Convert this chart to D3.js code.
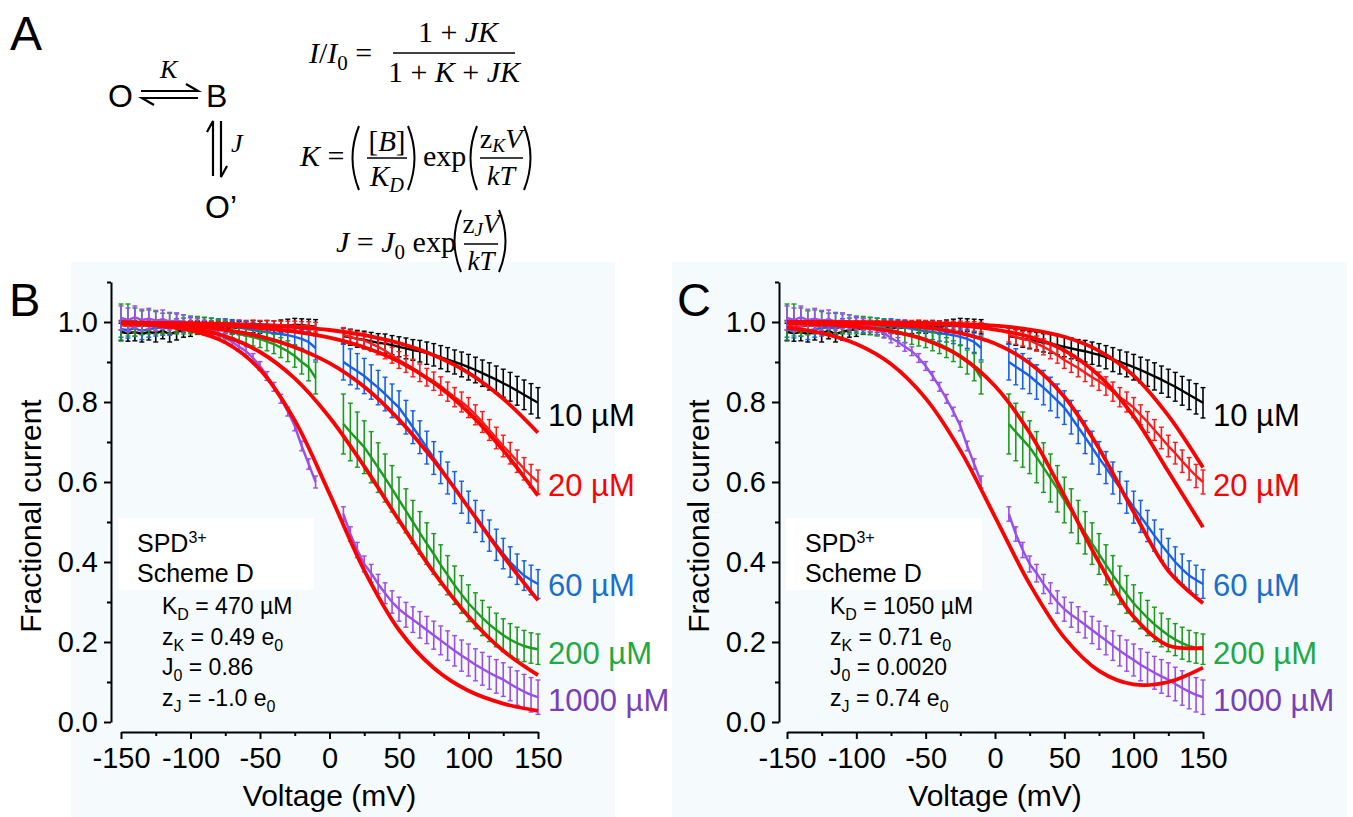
<!DOCTYPE html>
<html>
<head>
<meta charset="utf-8">
<script src="https://cdn.jsdelivr.net/npm/d3@7"></script>
<style>
  html, body { margin: 0; padding: 0; background: #ffffff; }
  svg { display: block; }
</style>
</head>
<body>
<svg id="figure" width="1353" height="817"></svg>
<script>
// voltage grids (mV)
const voltsLeft = d3.range(-150, -5, 5);    // -150 ... -10
const voltsRight = d3.range(10, 151, 5);    // 10 ... 150
const fitVolts = d3.range(-150, 151, 25);   // -150 ... 150

const concentrations = ["10 µM", "20 µM", "60 µM", "200 µM", "1000 µM"];

// mean fractional current
const mean10L = [0.975,0.972,0.975,0.970,0.975,0.972,0.978,0.970,0.975,0.980,0.982,0.985,0.985,0.984,0.985,0.986,0.985,0.987,0.986,0.988,0.987,0.989,0.988,0.990,0.991,0.993,0.992,0.990,0.988];
const mean10R = [0.965,0.962,0.958,0.955,0.952,0.948,0.946,0.942,0.938,0.934,0.930,0.927,0.922,0.918,0.912,0.906,0.900,0.894,0.887,0.880,0.872,0.864,0.856,0.847,0.838,0.828,0.818,0.808,0.798];
const mean20L = [0.992,0.990,0.988,0.992,0.990,0.989,0.986,0.984,0.988,0.990,0.992,0.993,0.994,0.993,0.994,0.995,0.994,0.995,0.994,0.995,0.994,0.993,0.993,0.992,0.992,0.991,0.990,0.989,0.987];
const mean20R = [0.968,0.962,0.958,0.954,0.946,0.938,0.928,0.917,0.905,0.895,0.885,0.873,0.862,0.852,0.840,0.826,0.812,0.800,0.786,0.768,0.750,0.730,0.710,0.690,0.672,0.652,0.633,0.615,0.600];
const mean60L = [0.982,0.980,0.984,0.978,0.982,0.985,0.987,0.985,0.990,0.992,0.993,0.992,0.993,0.992,0.990,0.990,0.988,0.986,0.983,0.980,0.977,0.975,0.972,0.970,0.967,0.963,0.958,0.950,0.935];
const mean60R = [0.900,0.888,0.877,0.865,0.850,0.836,0.820,0.803,0.786,0.762,0.737,0.712,0.686,0.660,0.636,0.610,0.586,0.562,0.537,0.514,0.490,0.466,0.443,0.421,0.400,0.382,0.366,0.355,0.345];
const mean200L = [1.000,1.005,1.000,0.998,1.000,0.998,0.996,0.997,0.995,0.994,0.993,0.992,0.990,0.987,0.984,0.980,0.975,0.970,0.966,0.962,0.958,0.951,0.945,0.936,0.927,0.915,0.900,0.887,0.860];
const mean200R = [0.745,0.725,0.706,0.687,0.662,0.636,0.610,0.583,0.555,0.528,0.500,0.473,0.446,0.420,0.393,0.367,0.342,0.319,0.297,0.278,0.260,0.244,0.230,0.217,0.206,0.197,0.190,0.185,0.182];
const mean1000L = [1.010,1.005,1.012,1.005,1.008,1.004,1.006,1.002,1.003,1.000,0.997,0.994,0.990,0.982,0.972,0.960,0.950,0.938,0.927,0.910,0.890,0.865,0.838,0.808,0.776,0.740,0.690,0.645,0.600];
const mean1000R = [0.520,0.470,0.430,0.395,0.372,0.345,0.322,0.300,0.282,0.268,0.256,0.243,0.230,0.217,0.204,0.191,0.178,0.166,0.155,0.143,0.133,0.123,0.114,0.106,0.095,0.085,0.076,0.068,0.062];

// error bars (half height)
const err10L = [0.022,0.02,0.022,0.02,0.02,0.022,0.02,0.02,0.02,0.018,0.018,0.016,0.016,0.016,0.015,0.015,0.015,0.015,0.015,0.015,0.015,0.015,0.015,0.015,0.016,0.016,0.016,0.017,0.018];
const err10R = [0.02,0.02,0.021,0.022,0.022,0.023,0.024,0.024,0.025,0.026,0.026,0.027,0.028,0.028,0.029,0.03,0.03,0.031,0.032,0.032,0.033,0.034,0.034,0.035,0.036,0.036,0.037,0.038,0.038];
const err20L = [0.012,0.012,0.013,0.012,0.012,0.013,0.014,0.014,0.013,0.012,0.011,0.011,0.01,0.01,0.01,0.01,0.01,0.01,0.01,0.01,0.01,0.01,0.01,0.01,0.01,0.011,0.011,0.012,0.012];
const err20R = [0.018,0.018,0.018,0.019,0.019,0.02,0.02,0.02,0.021,0.021,0.022,0.022,0.022,0.023,0.023,0.024,0.024,0.025,0.025,0.025,0.026,0.026,0.027,0.027,0.027,0.028,0.028,0.029,0.03];
const err60L = [0.02,0.02,0.02,0.022,0.02,0.02,0.02,0.018,0.018,0.018,0.018,0.018,0.018,0.018,0.018,0.018,0.018,0.018,0.018,0.018,0.019,0.019,0.02,0.02,0.021,0.022,0.024,0.026,0.03];
const err60R = [0.045,0.045,0.044,0.044,0.043,0.043,0.042,0.042,0.042,0.042,0.041,0.041,0.041,0.041,0.04,0.04,0.04,0.04,0.04,0.04,0.039,0.039,0.039,0.038,0.038,0.038,0.037,0.037,0.036];
const err200L = [0.045,0.04,0.035,0.03,0.03,0.028,0.026,0.025,0.025,0.024,0.022,0.022,0.022,0.022,0.022,0.022,0.022,0.022,0.022,0.022,0.022,0.023,0.024,0.025,0.026,0.028,0.03,0.034,0.04];
const err200R = [0.075,0.072,0.069,0.066,0.064,0.062,0.06,0.058,0.057,0.055,0.054,0.053,0.052,0.051,0.05,0.049,0.048,0.047,0.046,0.045,0.044,0.043,0.042,0.041,0.04,0.04,0.039,0.038,0.038];
const err1000L = [0.03,0.03,0.028,0.027,0.026,0.025,0.024,0.022,0.02,0.018,0.016,0.015,0.014,0.013,0.012,0.012,0.011,0.011,0.011,0.011,0.011,0.011,0.011,0.011,0.011,0.012,0.012,0.013,0.015];
const err1000R = [0.018,0.018,0.019,0.02,0.022,0.024,0.026,0.028,0.03,0.031,0.032,0.033,0.034,0.035,0.036,0.037,0.038,0.039,0.04,0.04,0.041,0.041,0.042,0.042,0.042,0.043,0.043,0.043,0.043];

// red fit curves, sampled every 25 mV
const fitB10 = [0.999,0.998,0.997,0.995,0.992,0.987,0.980,0.967,0.947,0.917,0.873,0.808,0.723];
const fitB20 = [0.999,0.997,0.995,0.991,0.985,0.976,0.961,0.937,0.901,0.848,0.774,0.679,0.566];
const fitB60 = [0.998,0.995,0.990,0.980,0.964,0.937,0.897,0.838,0.756,0.654,0.536,0.415,0.304];
const fitB200 = [0.997,0.993,0.984,0.964,0.925,0.859,0.762,0.639,0.504,0.374,0.264,0.178,0.117];
const fitB1000 = [0.997,0.992,0.979,0.949,0.881,0.754,0.571,0.379,0.230,0.135,0.078,0.046,0.028];
const fitC10 = [1.000,1.000,0.999,0.999,0.998,0.995,0.991,0.981,0.963,0.928,0.866,0.766,0.636];
const fitC20 = [1.000,0.999,0.999,0.998,0.995,0.991,0.981,0.963,0.929,0.866,0.764,0.626,0.487];
const fitC60 = [0.999,0.998,0.997,0.993,0.986,0.972,0.946,0.897,0.813,0.684,0.525,0.378,0.297];
const fitC200 = [0.997,0.994,0.988,0.977,0.955,0.914,0.840,0.723,0.566,0.399,0.263,0.191,0.185];
const fitC1000 = [0.986,0.972,0.945,0.895,0.809,0.679,0.513,0.345,0.211,0.128,0.094,0.100,0.136];

const paramsB = ["470 µM", "0.49", "0.86", "-1.0"];
const paramsC = ["1050 µM", "0.71", "0.0020", "0.74"];

const xTicks = [-150, -100, -50, 0, 50, 100, 150];
const xMinor = [-125, -75, -25, 25, 75, 125];
const yTicks = [0, 0.2, 0.4, 0.6, 0.8, 1.0];
const yMinor = [0.1, 0.3, 0.5, 0.7, 0.9, 1.1];

const dataColors = ["#000000", "#ff1a1a", "#1a5fe8", "#1e9a1e", "#9a4fe6"];
const labelColors = ["#000000", "#ff0000", "#1a6fcc", "#22a844", "#7a3fb8"];
const labelAt = [0.74, 0.565, 0.315, 0.145, 0.028];
const fitColor = "#ff0000";

const sans = "'Liberation Sans', Arial, Helvetica, sans-serif";
const serif = "'Liberation Serif', 'Times New Roman', serif";

const series = [
    { mL: mean10L, mR: mean10R, eL: err10L, eR: err10R },
    { mL: mean20L, mR: mean20R, eL: err20L, eR: err20R },
    { mL: mean60L, mR: mean60R, eL: err60L, eR: err60R },
    { mL: mean200L, mR: mean200R, eL: err200L, eR: err200R },
    { mL: mean1000L, mR: mean1000R, eL: err1000L, eR: err1000R }
];

const svg = d3.select("#figure");

const y = d3.scaleLinear().domain([0, 1.1]).range([722, 282]);

const panels = [
    { name: "B", left: 121, right: 538, axisX: 111, fits: [fitB10, fitB20, fitB60, fitB200, fitB1000], params: paramsB },
    { name: "C", left: 787, right: 1203, axisX: 779, fits: [fitC10, fitC20, fitC60, fitC200, fitC1000], params: paramsC }
];

//Panel backgrounds
svg.append("rect").attr("x", 71).attr("y", 262).attr("width", 544).attr("height", 555).attr("fill", "#f5fbfc");
svg.append("rect").attr("x", 672).attr("y", 262).attr("width", 675).attr("height", 555).attr("fill", "#f5fbfc");

panels.forEach(p => {
    const dx = p.axisX - 111;
    const x = d3.scaleLinear().domain([-150, 150]).range([p.left, p.right]);
    const g = svg.append("g");

    // white box behind the annotation
    g.append("rect")
        .attr("x", 118 + dx).attr("y", 518)
        .attr("width", 196).attr("height", 72)
        .attr("fill", "#ffffff");

    // data with error bars
    series.forEach((s, i) => {
        const color = dataColors[i];
        [[voltsLeft, s.mL, s.eL], [voltsRight, s.mR, s.eR]].forEach(([vs, ms, es]) => {
            const pts = vs.map((v, k) => ({ v: v, m: ms[k], e: es[k] }));
            const sg = g.append("g").attr("stroke", color).attr("fill", "none");

            sg.selectAll("line.bar")
                .data(pts)
                .join("line")
                .attr("class", "bar")
                .attr("x1", d => x(d.v)).attr("x2", d => x(d.v))
                .attr("y1", d => y(d.m - d.e)).attr("y2", d => y(d.m + d.e))
                .attr("stroke-width", 1.6);

            sg.selectAll("line.capTop")
                .data(pts)
                .join("line")
                .attr("class", "capTop")
                .attr("x1", d => x(d.v) - 2.5).attr("x2", d => x(d.v) + 2.5)
                .attr("y1", d => y(d.m + d.e)).attr("y2", d => y(d.m + d.e))
                .attr("stroke-width", 1.4);

            sg.selectAll("line.capBot")
                .data(pts)
                .join("line")
                .attr("class", "capBot")
                .attr("x1", d => x(d.v) - 2.5).attr("x2", d => x(d.v) + 2.5)
                .attr("y1", d => y(d.m - d.e)).attr("y2", d => y(d.m - d.e))
                .attr("stroke-width", 1.4);

            sg.append("path")
                .datum(pts)
                .attr("d", d3.line().x(d => x(d.v)).y(d => y(d.m)))
                .attr("stroke-width", 2.4);
        });
    });

    // fits
    const fitLine = d3.line()
        .x((d, k) => x(fitVolts[k]))
        .y(d => y(d))
        .curve(d3.curveCatmullRom.alpha(0.5));

    g.selectAll("path.fit")
        .data(p.fits)
        .join("path")
        .attr("class", "fit")
        .attr("d", fitLine)
        .attr("fill", "none")
        .attr("stroke", fitColor)
        .attr("stroke-width", 3.8);

    // axes
    const yAxis = g.append("g")
        .attr("transform", `translate(${p.axisX},0)`)
        .call(d3.axisLeft(y).tickValues(yTicks).tickFormat(d3.format(".1f"))
            .tickSize(7).tickPadding(6).tickSizeOuter(0));
    g.append("g")
        .attr("transform", `translate(${p.axisX},0)`)
        .call(d3.axisLeft(y).tickValues(yMinor).tickFormat("").tickSize(4).tickSizeOuter(0))
        .call(a => a.select(".domain").remove());

    const xAxis = g.append("g")
        .attr("transform", "translate(0,732)")
        .call(d3.axisBottom(x).tickValues(xTicks).tickFormat(d => String(d))
            .tickSize(7).tickPadding(8).tickSizeOuter(0));
    g.append("g")
        .attr("transform", "translate(0,732)")
        .call(d3.axisBottom(x).tickValues(xMinor).tickFormat("").tickSize(4).tickSizeOuter(0))
        .call(a => a.select(".domain").remove());

    g.selectAll(".domain, .tick line").attr("stroke", "#000").attr("stroke-width", 2);
    [yAxis, xAxis].forEach(a => a.attr("font-family", sans).attr("font-size", 29)
        .selectAll("text").attr("fill", "#000"));

    // axis titles
    g.append("text")
        .attr("x", x(0)).attr("y", 806)
        .attr("text-anchor", "middle")
        .style("font-family", sans).style("font-size", "30px")
        .text("Voltage (mV)");

    g.append("text")
        .attr("transform", `translate(${41 + dx},516) rotate(-90)`)
        .attr("text-anchor", "middle")
        .style("font-family", sans).style("font-size", "30px")
        .text("Fractional current");

    // concentration labels
    concentrations.forEach((c, i) => {
        g.append("text")
            .attr("x", p.right + 10).attr("y", y(labelAt[i]))
            .attr("fill", labelColors[i])
            .style("font-family", sans).style("font-size", "31px")
            .text(c);
    });

    // panel letter
    g.append("text")
        .attr("x", 9 + dx).attr("y", 316)
        .style("font-family", sans).style("font-size", "47px")
        .text(p.name);

    // annotation
    const ann = g.append("g").style("font-family", sans).attr("fill", "#000");
    const spd = ann.append("text").attr("x", 137 + dx).attr("y", 552).style("font-size", "25px");
    spd.append("tspan").text("SPD");
    spd.append("tspan").attr("dy", -9).style("font-size", "16px").text("3+");
    ann.append("text").attr("x", 137 + dx).attr("y", 582).style("font-size", "25px").text("Scheme D");

    const rows = [
        [["K", 0], ["D", 1], [" = " + p.params[0], 0]],
        [["z", 0], ["K", 1], [" = " + p.params[1] + " e", 0], ["0", 1]],
        [["J", 0], ["0", 1], [" = " + p.params[2], 0]],
        [["z", 0], ["J", 1], [" = " + p.params[3] + " e", 0], ["0", 1]]
    ];
    rows.forEach((r, j) => {
        const t = ann.append("text").attr("x", 162 + dx).attr("y", 614 + j * 30.7).style("font-size", "23px");
        let shifted = false;
        r.forEach(([str, sub]) => {
            const ts = t.append("tspan").text(str);
            if (sub && !shifted) { ts.attr("dy", 6).style("font-size", "16px"); shifted = true; }
            else if (sub) ts.style("font-size", "16px");
            else if (shifted) { ts.attr("dy", -6); shifted = false; }
        });
    });
});

//Panel A
const gA = svg.append("g");
gA.append("text").attr("x", 10).attr("y", 50)
    .style("font-family", sans).style("font-size", "48px").text("A");

gA.append("text").attr("x", 108).attr("y", 107).style("font-family", sans).style("font-size", "32px").text("O");
gA.append("text").attr("x", 206).attr("y", 107).style("font-family", sans).style("font-size", "32px").text("B");
gA.append("text").attr("x", 205).attr("y", 218).style("font-family", sans).style("font-size", "32px").text("O’");
gA.append("text").attr("x", 160).attr("y", 78).style("font-family", serif).style("font-style", "italic").style("font-size", "26px").text("K");
gA.append("text").attr("x", 231).attr("y", 152).style("font-family", serif).style("font-style", "italic").style("font-size", "26px").text("J");

const arrows = gA.append("g").attr("stroke", "#000").attr("stroke-width", 2.2).attr("fill", "none");
const arrowPaths = [
    "M141,91 H198 L186,84",
    "M198,98 H142 L154,105",
    "M213,176 V121 L207,132",
    "M221,121 V177 L227,166"
];
arrows.selectAll("path").data(arrowPaths).join("path").attr("d", d => d);

function mtext(x0, y0, parts, size, anchor, subShift) {
    const t = gA.append("text").attr("x", x0).attr("y", y0)
        .attr("text-anchor", anchor || "start")
        .style("font-family", serif).style("font-size", size + "px");
    const sh = size * (subShift === undefined ? 0.22 : subShift);
    let shift = 0;
    parts.forEach(([str, kind]) => {
        const ts = t.append("tspan").text(str);
        const isSub = kind && kind.indexOf("sub") >= 0;
        if (kind && kind.indexOf("i") === 0) ts.style("font-style", "italic");
        if (isSub) {
            ts.style("font-size", (size * 0.7) + "px");
            if (shift === 0) { ts.attr("dy", sh); shift = sh; }
        } else if (shift !== 0) {
            ts.attr("dy", -shift); shift = 0;
        }
    });
    return t;
}
function bar(x1, x2, yy) {
    gA.append("line").attr("x1", x1).attr("x2", x2).attr("y1", yy).attr("y2", yy)
        .attr("stroke", "#000").attr("stroke-width", 1.5);
}
function paren(x0, top, bot, open) {
    const w = 9, mid = (top + bot) / 2;
    const d = open
        ? `M${x0 + w},${top} Q${x0 - 4},${mid} ${x0 + w},${bot}`
        : `M${x0},${top} Q${x0 + w + 4},${mid} ${x0},${bot}`;
    gA.append("path").attr("d", d).attr("fill", "none").attr("stroke", "#000").attr("stroke-width", 2);
}

// I/I0 = (1+JK)/(1+K+JK)
mtext(309, 63, [["I", "i"], ["/"], ["I", "i"], ["0", "sub"], [" ="]], 30);
mtext(458, 42, [["1 + "], ["JK", "i"]], 30, "middle");
bar(393, 515, 53);
mtext(454, 82, [["1 + "], ["K", "i"], [" + "], ["JK", "i"]], 30, "middle");

// K = ([B]/KD) exp(zK V / kT)
mtext(300, 166, [["K", "i"], [" ="]], 30);
paren(350, 126, 190, true);
mtext(387, 151, [["["], ["B", "i"], ["]"]], 29, "middle");
bar(367, 407, 158);
mtext(387, 186, [["K", "i"], ["D", "isub"]], 29, "middle");
paren(408, 126, 190, false);
mtext(423, 166, [["exp"]], 30);
paren(468, 126, 190, true);
mtext(501, 148, [["z"], ["K", "isub"], ["V", "i"]], 28, "middle", 0.15);
bar(480, 523, 158);
mtext(501, 185, [["kT", "i"]], 28, "middle");
paren(524, 126, 190, false);

// J = J0 exp(zJ V / kT)
mtext(336, 252, [["J", "i"], [" = "], ["J", "i"], ["0", "sub"], [" exp"]], 30);
paren(452, 210, 272, true);
mtext(481, 233, [["z"], ["J", "isub"], ["V", "i"]], 27, "middle", 0.12);
bar(464, 498, 244);
mtext(481, 270, [["kT", "i"]], 27, "middle");
paren(499, 210, 272, false);
</script>
</body>
</html>
